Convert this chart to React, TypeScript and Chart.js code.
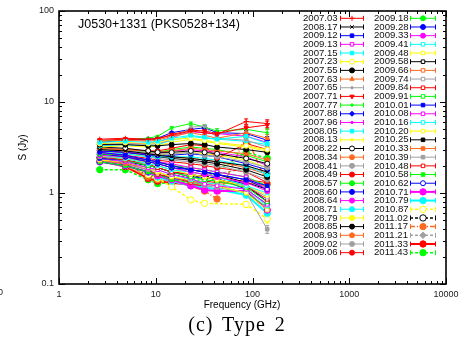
import { useEffect, useRef } from 'react';
import { Chart, registerables } from 'chart.js';
import { drawPoint } from 'chart.js/helpers';

Chart.register(...registerables);

// ---------------- data ----------------
const FREQ_GHZ = [2.64, 4.85, 8.35, 10.45, 14.6, 23.05, 32, 43, 86, 142];
const ERR_FRAC = [0.015, 0.015, 0.02, 0.02, 0.03, 0.04, 0.05, 0.06, 0.07, 0.1];
const X_TICKS = [1, 10, 100, 1000, 10000];
const Y_TICKS = [0.1, 1, 10, 100];
const SOURCE_NAME = 'J0530+1331 (PKS0528+134)';

const EPOCHS = [
  '2007.03', '2008.17', '2009.12', '2009.13', '2007.15', '2007.23', '2007.55', '2007.63', '2007.65', '2007.71',
  '2007.77', '2007.88', '2007.96', '2008.05', '2008.13', '2008.22', '2008.34', '2008.41', '2008.49', '2008.57',
  '2008.60', '2008.64', '2008.71', '2008.79', '2008.85', '2008.93', '2009.02', '2009.06',
  '2009.18', '2009.28', '2009.33', '2009.41', '2009.48', '2009.58', '2009.66', '2009.74', '2009.84', '2009.91',
  '2010.01', '2010.08', '2010.16', '2010.20', '2010.25', '2010.33', '2010.39', '2010.48', '2010.58', '2010.62',
  '2010.71', '2010.79', '2010.87', '2011.02', '2011.17', '2011.21', '2011.33', '2011.43',
];

const s2007_03 = [3.9, 4.0, 3.9, 4.0, 4.3, 4.8, 4.6, 4.4, 6.1, 5.8];
const s2008_17 = [3.0, 2.9, 2.7, 2.6, 2.5, 2.4, 2.3, 2.2, 2.0, 1.7];
const s2009_12 = [2.8, 2.6, 2.3, 2.2, 2.0, 1.8, 1.7, 1.6, 1.4, 1.2];
const s2009_13 = [2.8, 2.6, 2.3, 2.2, 2.1, 1.9, 1.8, 1.7, 1.5, 1.1];
const s2007_15 = [3.6, 3.7, 3.6, 3.7, 4.0, 4.3, 4.1, 3.9, 4.2, 3.5];
const s2007_23 = [3.5, 3.6, 3.5, 3.6, 3.9, 4.0, 3.8, 3.6, 3.3, 3.0];
const s2007_55 = [3.4, 3.4, 3.3, 3.3, 3.4, 3.5, 3.4, 3.2, 3.0, 2.8];
const s2007_63 = [3.7, 3.8, 3.7, 3.8, 4.2, 4.6, 4.3, 4.0, 4.6, 4.0];
const s2007_65 = [3.5, 3.5, 3.4, 3.5, 3.8, 5.3, 5.4, 4.0, 3.8, 3.2];
const s2007_71 = [3.8, 3.9, 3.8, 3.9, 4.4, 4.9, 4.8, 4.5, 5.2, 5.6];
const s2007_77 = [3.7, 3.9, 4.0, 4.2, 5.2, 5.8, 5.3, 4.8, 5.0, 4.6];
const s2007_88 = [3.6, 3.8, 3.9, 4.0, 4.6, 5.0, 5.2, 4.6, 4.5, 3.8];
const s2007_96 = [3.4, 3.5, 3.5, 3.6, 4.1, 4.7, 4.6, 4.5, 4.2, 3.6];
const s2008_05 = [3.3, 3.4, 3.3, 3.4, 3.8, 4.2, 4.0, 3.9, 3.7, 3.4];
const s2008_13 = [3.2, 3.3, 3.2, 3.3, 3.6, 3.9, 3.7, 3.5, 3.2, 2.9];
const s2008_22 = [3.2, 3.1, 2.9, 2.8, 2.8, 2.9, 2.8, 2.7, 2.4, 2.1];
const s2008_34 = [3.1, 3.0, 2.9, 2.8, 2.9, 3.1, 3.0, 2.9, 2.7, 2.3];
const s2008_41 = [3.0, 2.9, 2.8, 2.7, 2.7, 2.8, 2.6, 2.5, 2.2, 1.9];
const s2008_49 = [3.1, 3.0, 2.9, 2.9, 3.1, 3.4, 3.3, 2.4, 3.5, 3.0];
const s2008_57 = [3.0, 2.9, 2.8, 2.8, 3.0, 3.2, 3.1, 3.0, 2.6, 2.2];
const s2008_60 = [2.9, 2.8, 2.6, 2.6, 2.6, 2.7, 2.6, 2.5, 2.1, 1.8];
const s2008_64 = [2.9, 2.8, 2.7, 2.7, 2.9, 3.0, 2.9, 2.8, 2.5, 2.0];
const s2008_71 = [2.8, 2.7, 2.5, 2.5, 2.5, 2.5, 2.4, 2.3, 2.0, 1.6];
const s2008_79 = [2.8, 2.7, 2.6, 2.6, 2.7, 2.8, 2.7, 2.6, 2.3, 1.9];
const s2008_85 = [2.9, 2.8, 2.6, 2.5, 2.4, 2.3, 2.2, 2.1, 1.8, 1.5];
const s2008_93 = [2.9, 2.8, 2.6, 2.5, 2.5, 2.4, 2.3, 2.2, 1.9, 1.6];
const s2009_02 = [2.8, 2.7, 2.5, 2.4, 2.3, 2.2, 2.1, 2.0, 1.7, 1.4];
const s2009_06 = [2.8, 2.6, 2.4, 2.3, 2.2, 2.1, 2.0, 1.9, 1.7, 1.3];
const s2009_18 = [2.7, 2.6, 2.3, 2.2, 2.0, 1.9, 1.8, 1.7, 1.5, 1.2];
const s2009_28 = [2.7, 2.5, 2.2, 2.1, 1.9, 1.8, 1.7, 1.6, 1.4, 1.1];
const s2009_33 = [2.6, 2.5, 2.2, 2.1, 1.9, 1.7, 1.6, 1.5, 1.3, 1.05];
const s2009_41 = [2.6, 2.4, 2.1, 2.0, 1.8, 1.7, 1.6, 1.5, 1.2, 1.0];
const s2009_48 = [2.6, 2.4, 2.1, 2.0, 1.8, 1.6, 1.5, 1.4, 1.2, 0.95];
const s2009_58 = [2.7, 2.5, 2.3, 2.2, 2.0, 1.8, 1.7, 1.6, 1.3, 1.1];
const s2009_66 = [2.6, 2.4, 2.2, 2.1, 1.9, 1.7, 1.6, 1.5, 1.3, 1.2];
const s2009_74 = [2.5, 2.4, 2.1, 2.0, 1.8, 1.6, 1.5, 1.4, 1.2, 0.9];
const s2009_84 = [2.5, 2.3, 2.1, 1.9, 1.7, 1.6, 1.5, 1.4, 1.2, 0.85];
const s2009_91 = [2.5, 2.3, 2.0, 1.9, 1.7, 1.5, 1.4, 1.35, 1.15, 0.8];
const s2010_01 = [2.4, 2.3, 2.0, 1.9, 1.7, 1.5, 1.45, 1.5, 1.25, 0.8];
const s2010_08 = [2.4, 2.2, 1.9, 1.8, 1.6, 1.45, 1.25, 1.2, 1.1, 0.75];
const s2010_16 = [2.4, 2.2, 1.9, 1.8, 1.6, 1.4, 1.3, 1.25, 1.1, 0.72];
const s2010_20 = [2.3, 2.2, 1.9, 1.7, 1.5, 1.4, 1.3, 1.2, 1.0, 0.65];
const s2010_25 = [2.4, 2.2, 2.0, 1.9, 1.7, 1.6, 1.5, 1.4, 1.2, 0.8];
const s2010_33 = [2.3, 2.1, 1.9, 1.7, 1.5, 1.35, 1.3, 1.25, 1.3, 1.2];
const s2010_39 = [2.3, 2.1, 1.8, 1.7, 1.5, 1.35, 1.2, 1.15, 1.0, 0.4];
const s2010_48 = [2.3, 2.1, 1.8, 1.6, 1.5, 1.3, 1.35, 1.3, 1.4, 1.3];
const s2010_58 = [2.2, 2.0, 1.7, 1.6, 1.4, 1.3, 1.25, 1.2, 1.0, 0.7];
const s2010_62 = [2.2, 2.0, 1.7, 1.6, 1.45, 1.35, 1.3, 1.45, 1.1, 0.75];
const s2010_71 = [2.2, 2.0, 1.7, 1.55, 1.4, 1.2, 1.08, 1.05, 1.05, 0.65];
const s2010_79 = [2.2, 2.0, 1.7, 1.5, 1.35, 1.2, 1.15, 1.1, 0.95, 0.6];
const s2010_87 = [2.3, 2.0, 1.6, 1.45, 1.17, 0.84, 0.77, null, 0.75, 0.52];
const s2011_02 = [2.4, 2.05, 1.6, 1.5, 1.6, 1.45, 1.55, 1.4, null, null];
const s2011_17 = [2.3, 2.0, 1.5, 1.4, 1.35, 1.2, 1.05, 0.86, 4.3, 1.25];
const s2011_21 = [2.65, 2.1, 1.5, 1.4, 1.35, 1.5, 1.55, 1.6, 1.9, 1.65];
const s2011_33 = [2.25, 1.95, 1.45, 1.35, 1.3, 1.23, 1.2, null, null, null];
const s2011_43 = [1.8, 1.8, 1.4, 1.27, 1.3, 1.3, 1.45, null, 2.8, 2.4];

const SERIES_VALUES: (number | null)[][] = [
  s2007_03, s2008_17, s2009_12, s2009_13, s2007_15, s2007_23, s2007_55, s2007_63, s2007_65, s2007_71,
  s2007_77, s2007_88, s2007_96, s2008_05, s2008_13, s2008_22, s2008_34, s2008_41, s2008_49, s2008_57,
  s2008_60, s2008_64, s2008_71, s2008_79, s2008_85, s2008_93, s2009_02, s2009_06,
  s2009_18, s2009_28, s2009_33, s2009_41, s2009_48, s2009_58, s2009_66, s2009_74, s2009_84, s2009_91,
  s2010_01, s2010_08, s2010_16, s2010_20, s2010_25, s2010_33, s2010_39, s2010_48, s2010_58, s2010_62,
  s2010_71, s2010_79, s2010_87, s2011_02, s2011_17, s2011_21, s2011_33, s2011_43,
];

// ---------------- styles ----------------
const RD = '#ff0000', BK = '#000000', BL = '#0000ff', MG = '#ff00ff', CY = '#00ffff';
const YL = '#ffff00', OR = '#ff6a1f', GY = '#a0a0a0', GN = '#00ff00';

const COLORS = [
  RD, BK, BL, MG, CY, YL, BK, OR, GY, RD, GN, BL, MG, CY, YL, BK, OR, GY, RD, GN, BL, MG, CY, YL, BK, OR, GY, RD,
  GN, BL, MG, CY, YL, BK, OR, GY, RD, GN, BL, MG, CY, YL, BK, OR, GY, RD, GN, BL, MG, CY, YL, BK, OR, GY, RD, GN,
];

const MARKERS = [
  'cross', 'crossRot', 'rect', 'rectOpen', 'rect', 'circleOpen', 'circle', 'triangle', 'dot', 'triangleDown',
  'dot', 'rectRot', 'dot', 'rect', 'dot', 'circleOpen', 'circle', 'circle', 'circle', 'circle',
  'circle', 'circle', 'circle', 'circle', 'circle', 'circle', 'circle', 'circle',
  'circle', 'circle', 'circle', 'rectOpen', 'rectOpen', 'rectOpen', 'rectOpen', 'rectOpen', 'rectOpen', 'rectOpen',
  'rect', 'rectOpen', 'rectOpen', 'rectOpen', 'rect', 'rect', 'rect', 'rectOpen', 'rect', 'circleOpen',
  'circle', 'circle', 'circleOpen', 'circleOpen', 'circle', 'rectRot', 'circle', 'circle',
];

const LINE_WIDTHS = EPOCHS.map((e) =>
  e === '2010.71' || e === '2010.79' || e === '2011.33' ? 2 : e >= '2010.87' ? 1.5 : 1
);
const DASHES: number[][] = EPOCHS.map((e) => {
  if (e === '2011.17') return [5, 2, 1, 2];
  if (e === '2010.87' || e === '2011.02' || e === '2011.21' || e === '2011.43') return [3, 2];
  return [];
});
const RADII = EPOCHS.map((e, i) => {
  const m = MARKERS[i];
  if (m === 'dot') return 1.2;
  if (e >= '2010.71') return 3.2;
  return 2.5;
});

const FONT = 'Liberation Sans, Arial, Helvetica, sans-serif';

function styleOf(m: string) {
  if (m === 'circleOpen' || m === 'dot') return 'circle';
  if (m === 'rectOpen') return 'rect';
  if (m === 'triangleDown') return 'triangle';
  return m;
}
function isOpen(m: string) {
  return m === 'circleOpen' || m === 'rectOpen';
}

export default function App() {
  const ref = useRef<HTMLCanvasElement>(null);

  useEffect(() => {
    const canvas = ref.current;
    if (!canvas) return;

    const datasets = SERIES_VALUES.map((vals, i) => {
      const m = MARKERS[i];
      const pts: { x: number; y: number }[] = [];
      vals.forEach((v, j) => {
        if (v !== null) pts.push({ x: FREQ_GHZ[j], y: v });
      });
      return {
        label: EPOCHS[i],
        data: pts,
        borderColor: COLORS[i],
        backgroundColor: COLORS[i],
        borderWidth: LINE_WIDTHS[i],
        borderDash: DASHES[i],
        pointStyle: styleOf(m),
        pointRotation: m === 'triangleDown' ? 180 : 0,
        pointRadius: RADII[i],
        pointBackgroundColor: isOpen(m) ? '#ffffff' : COLORS[i],
        pointBorderColor: COLORS[i],
        pointBorderWidth: 1,
        tension: 0,
        fill: false,
        spanGaps: true,
      };
    });

    const errorBars = {
      id: 'errorBars',
      beforeDatasetsDraw(chart: any) {
        const ctx = chart.ctx;
        const ys = chart.scales.y;
        ctx.save();
        chart.data.datasets.forEach((ds: any, di: number) => {
          const meta = chart.getDatasetMeta(di);
          ds.data.forEach((p: any, k: number) => {
            const el = meta.data[k];
            if (!el) return;
            const j = FREQ_GHZ.indexOf(p.x);
            const e = ERR_FRAC[j];
            const y1 = ys.getPixelForValue(p.y * (1 + e));
            const y2 = ys.getPixelForValue(p.y * (1 - e));
            ctx.strokeStyle = ds.borderColor;
            ctx.lineWidth = 1;
            ctx.setLineDash([]);
            ctx.beginPath();
            ctx.moveTo(el.x, y1);
            ctx.lineTo(el.x, y2);
            ctx.moveTo(el.x - 2, y1);
            ctx.lineTo(el.x + 2, y1);
            ctx.moveTo(el.x - 2, y2);
            ctx.lineTo(el.x + 2, y2);
            ctx.stroke();
          });
        });
        ctx.restore();
      },
    };

    const decor = {
      id: 'decor',
      afterDraw(chart: any) {
        const ctx = chart.ctx;
        const { left, right, top, bottom } = chart.chartArea;
        const xs = chart.scales.x;
        const ys = chart.scales.y;
        ctx.save();
        ctx.setLineDash([]);
        ctx.strokeStyle = '#000';
        // ticks
        ctx.lineWidth = 1;
        ctx.beginPath();
        for (let e = 0; e <= 4; e++) {
          for (let m = 1; m <= 9; m++) {
            const v = m * Math.pow(10, e);
            if (v > 10000) break;
            const px = Math.round(xs.getPixelForValue(v)) + 0.5;
            const len = m === 1 ? 6 : 3;
            ctx.moveTo(px, bottom);
            ctx.lineTo(px, bottom - len);
            ctx.moveTo(px, top);
            ctx.lineTo(px, top + len);
          }
        }
        for (let e = -1; e <= 2; e++) {
          for (let m = 1; m <= 9; m++) {
            const v = m * Math.pow(10, e);
            if (v > 100.0001) break;
            const py = Math.round(ys.getPixelForValue(v)) + 0.5;
            const len = m === 1 ? 6 : 3;
            ctx.moveTo(left, py);
            ctx.lineTo(left + len, py);
            ctx.moveTo(right, py);
            ctx.lineTo(right - len, py);
          }
        }
        ctx.stroke();
        // frame
        ctx.lineWidth = 1.6;
        ctx.strokeRect(left, top, right - left, bottom - top);

        // source name
        ctx.fillStyle = '#000';
        ctx.font = `12.5px ${FONT}`;
        ctx.textAlign = 'left';
        ctx.textBaseline = 'middle';
        ctx.fillText(SOURCE_NAME, 78, 25);

        // axis titles
        ctx.font = `10px ${FONT}`;
        ctx.textAlign = 'center';
        ctx.fillText('Frequency (GHz)', 242, 305);
        ctx.save();
        ctx.translate(23, (top + bottom) / 2);
        ctx.rotate(-Math.PI / 2);
        ctx.fillText('S (Jy)', 0, 0);
        ctx.restore();

        // stray label of the neighbouring panel at the far left
        ctx.font = `9px ${FONT}`;
        ctx.textAlign = 'right';
        ctx.fillStyle = '#222';
        ctx.fillText('10000', 3, 293);

        // legend
        ctx.font = `9.6px ${FONT}`;
        ctx.textBaseline = 'middle';
        chart.data.datasets.forEach((ds: any, i: number) => {
          const col = i < 28 ? 0 : 1;
          const row = i % 28;
          const y = 18.3 + row * 8.68;
          const tx = col === 0 ? 303 : 374;
          const x0 = col === 0 ? 340 : 410;
          const x1 = col === 0 ? 364 : 436;
          ctx.fillStyle = '#111';
          ctx.textAlign = 'left';
          ctx.fillText(ds.label, tx, y);
          ctx.strokeStyle = ds.borderColor;
          ctx.lineWidth = ds.borderWidth;
          ctx.setLineDash(ds.borderDash);
          ctx.beginPath();
          ctx.moveTo(x0, y);
          ctx.lineTo(x1, y);
          ctx.stroke();
          ctx.setLineDash([]);
          ctx.lineWidth = 1;
          ctx.beginPath();
          ctx.moveTo(x0 + 0.5, y - 2.5);
          ctx.lineTo(x0 + 0.5, y + 2.5);
          ctx.moveTo(x1 - 0.5, y - 2.5);
          ctx.lineTo(x1 - 0.5, y + 2.5);
          ctx.stroke();
          const m = MARKERS[i];
          ctx.fillStyle = isOpen(m) ? '#ffffff' : ds.borderColor;
          ctx.strokeStyle = ds.borderColor;
          ctx.lineWidth = 1;
          drawPoint(
            ctx,
            {
              pointStyle: ds.pointStyle,
              rotation: ds.pointRotation,
              radius: ds.pointRadius,
              borderWidth: 1,
            } as any,
            (x0 + x1) / 2,
            y
          );
        });
        ctx.restore();
      },
    };

    const chart = new Chart(canvas, {
      type: 'line',
      data: { datasets: datasets as any },
      options: {
        animation: false,
        responsive: false,
        devicePixelRatio: 1,
        layout: { padding: { top: 11, right: 23, left: 0, bottom: 0 } },
        plugins: {
          legend: { display: false },
          tooltip: { enabled: false },
          title: { display: false },
        },
        scales: {
          x: {
            type: 'logarithmic',
            position: 'bottom',
            min: 1,
            max: 10000,
            grid: { display: false, drawTicks: false },
            border: { display: false },
            afterBuildTicks: (scale: any) => {
              scale.ticks = X_TICKS.map((v) => ({ value: v }));
            },
            afterFit: (scale: any) => {
              scale.height = 55;
            },
            ticks: {
              autoSkip: false,
              maxRotation: 0,
              padding: 5,
              color: '#222',
              font: { family: FONT, size: 9 },
              callback: (v: any) => String(v),
            },
          },
          y: {
            type: 'logarithmic',
            position: 'left',
            min: 0.1,
            max: 100,
            grid: { display: false, drawTicks: false },
            border: { display: false },
            afterBuildTicks: (scale: any) => {
              scale.ticks = Y_TICKS.map((v) => ({ value: v }));
            },
            afterFit: (scale: any) => {
              scale.width = 59;
            },
            ticks: {
              autoSkip: false,
              padding: 5,
              color: '#222',
              font: { family: FONT, size: 9 },
              callback: (v: any) => String(v),
            },
          },
        },
      },
      plugins: [errorBars, decor],
    });

    return () => chart.destroy();
  }, []);

  return (
    <div style={{ position: 'absolute', left: 0, top: 0, width: 469, height: 339, background: '#fff', overflow: 'hidden' }}>
      <canvas ref={ref} width={469} height={339} style={{ display: 'block', width: 469, height: 339 }} />
      <div
        style={{
          position: 'absolute',
          left: 0,
          top: 312,
          width: 474,
          textAlign: 'center',
          fontFamily: 'Liberation Serif, Times New Roman, serif',
          fontSize: 20,
          letterSpacing: 1,
          wordSpacing: 3,
          lineHeight: '24px',
          color: '#000',
        }}
      >
        (c) Type 2
      </div>
    </div>
  );
}
